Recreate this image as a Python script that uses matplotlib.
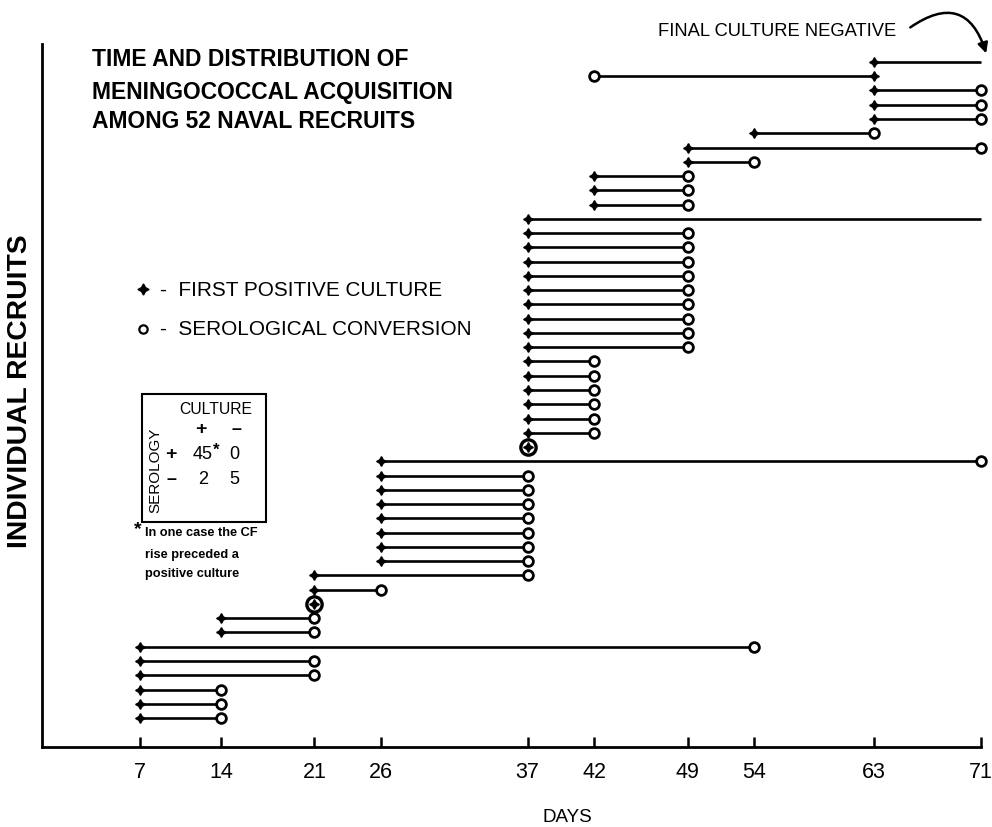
import numpy as np
import matplotlib
matplotlib.use("Agg")
import matplotlib.pyplot as plt
from matplotlib import font_manager
from matplotlib.lines import Line2D
from matplotlib.patches import Rectangle, FancyArrowPatch

# ---------------- data (recruits listed bottom to top) ----------------
culture_day = [7, 7, 7, 7, 7, 7,
               14, 14,
               21, 21, 21,
               26, 26, 26, 26, 26, 26, 26, 26,
               37,
               37, 37, 37, 37, 37, 37,
               37, 37, 37, 37, 37, 37, 37, 37, 37,
               37,
               42, 42, 42,
               49, 49,
               54,
               63, 63, 63, 63, 63]
sero_day = [14, 14, 14, 21, 21, 54,
            21, 21,
            21, 26, 37,
            37, 37, 37, 37, 37, 37, 37, 71,
            37,
            42, 42, 42, 42, 42, 42,
            49, 49, 49, 49, 49, 49, 49, 49, 49,
            None,
            49, 49, 49,
            54, 71,
            63,
            71, 71, 71, 42, None]
study_end = 71
day_ticks = [7, 14, 21, 26, 37, 42, 49, 54, 63, 71]

title_lines = ["TIME AND DISTRIBUTION OF",
               "MENINGOCOCCAL ACQUISITION",
               "AMONG 52 NAVAL RECRUITS"]
legend_labels = ["-  FIRST POSITIVE CULTURE", "-  SEROLOGICAL CONVERSION"]
table_counts = [["45", "0"], ["2", "5"]]
footnote = ["In one case the CF", "rise preceded a", "positive culture"]

# ---------------- fonts ----------------
avail = {f.name for f in font_manager.fontManager.ttflist}


def pick(*names):
    for n in names:
        if n in avail:
            return n
    return "DejaVu Sans"


NARROW = pick("Liberation Sans Narrow", "DejaVu Sans Condensed", "Liberation Sans")
SANS = pick("Liberation Sans", "DejaVu Sans")

W, H = 992, 828
fig = plt.figure(figsize=(W / 100, H / 100), dpi=100)
fig.patch.set_facecolor("white")

ax_left, ax_right, ax_top, ax_bot = 42, 992, 45, 748
ax = fig.add_axes([ax_left / W, 1 - ax_bot / H, (ax_right - ax_left) / W, (ax_bot - ax_top) / H])

# piecewise scale: the first week is drawn compressed in the original
K = 0.868


def fwd(x):
    x = np.asarray(x, float)
    return np.where(x < 14, 14 - (14 - x) * K, x)


def inv(u):
    u = np.asarray(u, float)
    return np.where(u < 14, 14 - (14 - u) / K, u)


ax.set_xscale("function", functions=(fwd, inv))
ax.set_xlim(float(inv(0.57)), 71.84)
ax.set_ylim(-1.03, 48.26)

LW = 1.9
for i, (c, s) in enumerate(zip(culture_day, sero_day)):
    y = i + 1
    if s is None:
        ax.plot([c, study_end], [y, y], color="black", lw=LW, solid_capstyle="butt", zorder=2)
        ax.plot([c], [y], marker=(4, 1, 0), ms=7, color="black", ls="none", zorder=3)
    elif s == c:
        ax.plot([c], [y], marker="o", ms=11, mfc="white", mec="black", mew=2.4, ls="none", zorder=3)
        ax.plot([c], [y], marker=(4, 1, 0), ms=7, color="black", ls="none", zorder=4)
    else:
        ax.plot([c, s], [y, y], color="black", lw=LW, solid_capstyle="butt", zorder=2)
        ax.plot([c], [y], marker=(4, 1, 0), ms=7, color="black", ls="none", zorder=3)
        ax.plot([s], [y], marker="o", ms=7, mfc="white", mec="black", mew=2.0, ls="none", zorder=3)

for side in ("top", "right"):
    ax.spines[side].set_visible(False)
ax.spines["left"].set_linewidth(2)
ax.spines["bottom"].set_linewidth(2)
ax.spines["bottom"].set_bounds(ax.get_xlim()[0], study_end)
ax.set_yticks([])
ax.set_xticks(day_ticks)
ax.set_xticklabels([str(d) for d in day_ticks], fontsize=15.5, family=NARROW)
ax.tick_params(axis="x", direction="in", length=7, width=1.8, pad=10)

fig.canvas.draw()
R = fig.canvas.get_renderer()


def ptext(x, y, s, width=None, size=12, ha="left", va="center", rotation=0, **kw):
    t = fig.text(x / W, 1 - y / H, s, ha=ha, va=va, fontsize=size, rotation=rotation, **kw)
    if width:
        bb = t.get_window_extent(renderer=R)
        ext = bb.height if rotation else bb.width
        t.set_fontsize(size * width / ext)
    return t


# title
t0 = ptext(92, 59, title_lines[1], width=361, size=18, family=NARROW, weight="bold")
fs_title = t0.get_fontsize()
t0.remove()
for line, yy in zip(title_lines, [59, 92, 122]):
    ptext(92, yy, line, size=fs_title, family=NARROW, weight="bold")

# legend keys
fig.add_artist(Line2D([143 / W], [1 - 290 / H], marker=(4, 1, 0), ms=8, color="black", ls="none",
                      transform=fig.transFigure))
fig.add_artist(Line2D([143 / W], [1 - 330 / H], marker="o", ms=6, mfc="white", mec="black", mew=1.6,
                      ls="none", transform=fig.transFigure))
l0 = ptext(160, 290, legend_labels[0], width=283, size=15, family=SANS)
ptext(160, 330, legend_labels[1], size=l0.get_fontsize(), family=SANS)

# y label and x label
ptext(20, 391, "INDIVIDUAL RECRUITS", width=312, size=18, ha="center", rotation=90,
      family=SANS, weight="bold")
ptext(567, 818, "DAYS", width=50, size=15, ha="center", family=NARROW)

# contingency table box
fig.add_artist(Rectangle((142 / W, 1 - 523 / H), (266 - 142) / W, (523 - 395) / H,
                         transform=fig.transFigure, fill=False, lw=1.5, ec="black"))
ptext(216, 410, "CULTURE", width=73, size=11, ha="center", family=SANS)
ptext(201, 430, "+", size=14, ha="center", family=SANS, weight="bold")
ptext(236, 430, "\u2013", size=13, ha="center", family=SANS, weight="bold")
ptext(155, 470, "SEROLOGY", width=85, size=11, ha="center", rotation=90, family=SANS)
ptext(171, 455, "+", size=14, ha="center", family=SANS, weight="bold")
ptext(171, 480, "\u2013", size=13, ha="center", family=SANS, weight="bold")
for r, yy in enumerate([455, 480]):
    for cidx, xx in enumerate([203, 234]):
        ptext(xx, yy, table_counts[r][cidx], size=13, ha="center", family=SANS)
ptext(213, 450, "*", size=12, ha="left", family=SANS, weight="bold")

# footnote
ptext(138, 530, "*", size=14, ha="center", family=SANS, weight="bold")
f0 = ptext(145, 533, footnote[0], width=113, size=10, family=SANS, weight="bold")
for line, yy in zip(footnote[1:], [555, 574]):
    ptext(145, yy, line, size=f0.get_fontsize(), family=SANS, weight="bold")

# final culture negative note with curved arrow
ptext(658, 32, "FINAL CULTURE NEGATIVE", width=239, size=12, family=SANS)
fig.add_artist(FancyArrowPatch(
    (908 / W, 1 - 30 / H), (987 / W, 1 - 57 / H), transform=fig.transFigure,
    connectionstyle="arc3,rad=-0.7", arrowstyle="-|>,head_length=6,head_width=3",
    color="black", lw=1.8))

fig.savefig("out.png", dpi=100, facecolor="white")
